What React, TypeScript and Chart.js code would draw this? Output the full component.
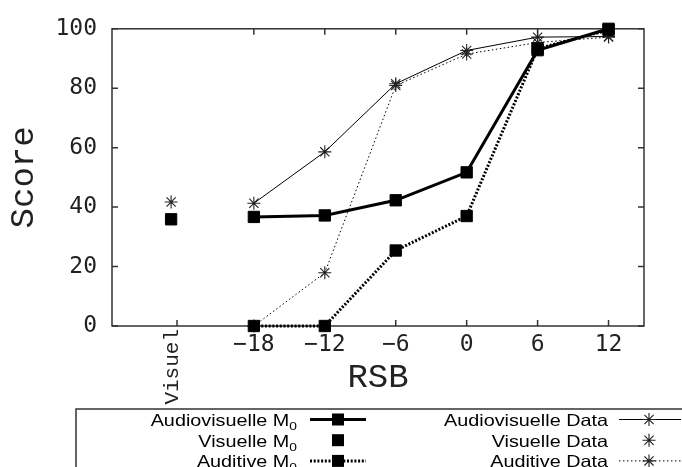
import React, { useEffect, useRef } from 'react';
import { Chart, registerables } from 'chart.js';

Chart.register(...registerables);

// ---------- data ----------
const snrLevels = [-18, -12, -6, 0, 6, 12];
const visualX = -25;
const xTickValues = [-24.5, -18, -12, -6, 0, 6, 12];
const xTickLabels = ['Visuel', '\u221218', '\u221212', '\u22126', '0', '6', '12'];
const yTickValues = [0, 20, 40, 60, 80, 100];

const avModel = [36.7, 37.2, 42.3, 51.7, 92.8, 100];
const vModel = [35.9];
const aModel = [0, 0, 25.4, 37.0, 93.3, 99.6];
const avData = [41.3, 58.6, 81.5, 92.7, 97.2, 97.4];
const vData = [41.7];
const aData = [0, 17.9, 80.9, 91.5, 95.4, 97.2];

const seriesLabels = [
  'Audiovisuelle M_0',
  'Visuelle M_0',
  'Auditive M_0',
  'Audiovisuelle Data',
  'Visuelle Data',
  'Auditive Data',
];

const xTitle = 'RSB';
const yTitle = 'Score';

// ---------- helpers ----------
const pts = (xs: number[], ys: number[]) => ys.map((y, i) => ({ x: xs[i], y }));

function drawStar(ctx: CanvasRenderingContext2D, x: number, y: number, r: number) {
  const d = r * Math.SQRT1_2;
  ctx.beginPath();
  ctx.moveTo(x - r, y); ctx.lineTo(x + r, y);
  ctx.moveTo(x, y - r); ctx.lineTo(x, y + r);
  ctx.moveTo(x - d, y - d); ctx.lineTo(x + d, y + d);
  ctx.moveTo(x - d, y + d); ctx.lineTo(x + d, y - d);
  ctx.stroke();
}

function drawLegendLabel(ctx: CanvasRenderingContext2D, text: string, rightX: number, baseY: number) {
  const [main, sub] = text.split('_');
  const mainFont = '16.5px "Liberation Sans", Arial, sans-serif';
  const subFont = '11.5px "Liberation Sans", Arial, sans-serif';
  const sx = 1.2;
  ctx.font = mainFont;
  const wMain = ctx.measureText(main).width;
  ctx.font = subFont;
  const wSub = sub ? ctx.measureText(sub).width : 0;
  const total = (wMain + wSub) * sx;
  ctx.save();
  ctx.translate(rightX - total, baseY);
  ctx.scale(sx, 1);
  ctx.fillStyle = '#000';
  ctx.textAlign = 'left';
  ctx.textBaseline = 'alphabetic';
  ctx.font = mainFont;
  ctx.fillText(main, 0, 0);
  if (sub) {
    ctx.font = subFont;
    ctx.fillText(sub, wMain, 4);
  }
  ctx.restore();
}

const framePlugin = {
  id: 'gnuFrame',
  beforeDatasetsDraw(chart: any) {
    const { ctx, chartArea: a, scales } = chart;
    const xs = scales.x;
    const ys = scales.y;
    ctx.save();
    ctx.strokeStyle = '#333';
    ctx.lineWidth = 1.5;
    ctx.strokeRect(a.left, a.top, a.right - a.left, a.bottom - a.top);
    ctx.beginPath();
    xTickValues.forEach((v, i) => {
      const px = xs.getPixelForValue(v);
      ctx.moveTo(px, a.bottom);
      ctx.lineTo(px, a.bottom - 6);
      if (i > 0) {
        ctx.moveTo(px, a.top);
        ctx.lineTo(px, a.top + 6);
      }
    });
    yTickValues.forEach((v) => {
      const py = ys.getPixelForValue(v);
      ctx.moveTo(a.left, py);
      ctx.lineTo(a.left + 6, py);
      ctx.moveTo(a.right, py);
      ctx.lineTo(a.right - 6, py);
    });
    ctx.stroke();
    // rotated "Visuel" tick label
    const vx = xs.getPixelForValue(xTickValues[0]);
    ctx.translate(vx - 5, a.bottom + 3);
    ctx.rotate(-Math.PI / 2);
    ctx.font = '21px "Liberation Mono", "Courier New", monospace';
    ctx.textAlign = 'right';
    ctx.textBaseline = 'middle';
    ctx.fillStyle = '#222';
    ctx.fillText(xTickLabels[0], 0, 0);
    ctx.restore();
  },
  afterDraw(chart: any) {
    const { ctx } = chart;
    const ds = chart.data.datasets;
    ctx.save();
    // legend box
    ctx.strokeStyle = '#333';
    ctx.lineWidth = 1.5;
    ctx.beginPath();
    ctx.moveTo(76, 480);
    ctx.lineTo(76, 409);
    ctx.lineTo(690, 409);
    ctx.stroke();

    const rows = [419.5, 440.2, 460.9];
    const cols = [
      { textRight: 297, lineFrom: 310, lineTo: 366, mark: 338 },
      { textRight: 608, lineFrom: 619, lineTo: 681, mark: 649 },
    ];
    ds.forEach((d: any, i: number) => {
      const col = cols[Math.floor(i / 3)];
      const cy = rows[i % 3];
      drawLegendLabel(ctx, d.label, col.textRight, cy + 6.5);
      if (d.showLine !== false) {
        ctx.save();
        ctx.strokeStyle = d.borderColor;
        ctx.lineWidth = d.borderWidth;
        ctx.setLineDash(d.borderDash || []);
        ctx.beginPath();
        ctx.moveTo(col.lineFrom, cy);
        ctx.lineTo(col.lineTo, cy);
        ctx.stroke();
        ctx.restore();
      }
      if (d.pointStyle === 'rect') {
        ctx.fillStyle = d.pointBackgroundColor;
        ctx.fillRect(col.mark - 6, cy - 6, 12, 12);
      } else {
        ctx.strokeStyle = d.pointBorderColor;
        ctx.lineWidth = d.pointBorderWidth;
        drawStar(ctx, col.mark, cy, 6.5);
      }
    });
    ctx.restore();
  },
};

const squareStyle = {
  pointStyle: 'rect',
  pointRadius: 8,
  pointHoverRadius: 8,
  pointBackgroundColor: '#000',
  pointBorderColor: '#000',
  pointBorderWidth: 1,
};
const starStyle = {
  pointStyle: 'star',
  pointRadius: 6.5,
  pointHoverRadius: 6.5,
  pointBackgroundColor: '#222',
  pointBorderColor: '#222',
  pointBorderWidth: 1.1,
};

export default function App() {
  const canvasRef = useRef<HTMLCanvasElement | null>(null);

  useEffect(() => {
    document.body.style.margin = '0';
    const canvas = canvasRef.current;
    if (!canvas) return;
    const chart = new Chart(canvas, {
      type: 'line',
      data: {
        datasets: [
          {
            label: seriesLabels[0],
            data: pts(snrLevels, avModel),
            borderColor: '#000',
            borderWidth: 3,
            ...squareStyle,
            clip: false,
          },
          {
            label: seriesLabels[1],
            data: pts([visualX], vModel),
            showLine: false,
            borderColor: '#000',
            borderWidth: 0,
            ...squareStyle,
            clip: false,
          },
          {
            label: seriesLabels[2],
            data: pts(snrLevels, aModel),
            borderColor: '#000',
            borderWidth: 3,
            borderDash: [2, 1.7],
            ...squareStyle,
            clip: false,
          },
          {
            label: seriesLabels[3],
            data: pts(snrLevels, avData),
            borderColor: '#000',
            borderWidth: 1,
            ...starStyle,
            clip: false,
          },
          {
            label: seriesLabels[4],
            data: pts([visualX], vData),
            showLine: false,
            borderColor: '#222',
            borderWidth: 0,
            ...starStyle,
            clip: false,
          },
          {
            label: seriesLabels[5],
            data: pts(snrLevels, aData),
            borderColor: '#000',
            borderWidth: 1,
            borderDash: [1.5, 2.5],
            ...starStyle,
            clip: false,
          },
        ] as any,
      },
      options: {
        responsive: false,
        animation: false,
        events: [],
        layout: { padding: { left: 0, top: 25, right: 38, bottom: 58 } },
        plugins: {
          legend: { display: false },
          tooltip: { enabled: false },
        },
        elements: { line: { tension: 0 } },
        scales: {
          x: {
            type: 'linear',
            min: -30,
            max: 15,
            afterBuildTicks: (s: any) => {
              s.ticks = xTickValues.map((v) => ({ value: v }));
            },
            afterFit: (s: any) => {
              s.height = 83;
            },
            grid: { display: false, drawTicks: false },
            border: { display: false },
            ticks: {
              autoSkip: false,
              maxRotation: 0,
              minRotation: 0,
              padding: 5,
              color: '#222',
              font: { family: '"DejaVu Sans Mono", monospace', size: 23 },
              callback: (_v: any, i: number) => (i === 0 ? '' : xTickLabels[i]),
            },
            title: {
              display: true,
              text: xTitle,
              color: '#222',
              font: { family: '"Liberation Mono", "Courier New", monospace', size: 34 },
              padding: { top: 0, bottom: 11 },
            },
          },
          y: {
            type: 'linear',
            min: 0,
            max: 100,
            afterBuildTicks: (s: any) => {
              s.ticks = yTickValues.map((v) => ({ value: v }));
            },
            afterFit: (s: any) => {
              s.width = 112;
            },
            grid: { display: false, drawTicks: false },
            border: { display: false },
            ticks: {
              padding: 15,
              color: '#222',
              font: { family: '"DejaVu Sans Mono", monospace', size: 23 },
            },
            title: {
              display: true,
              text: yTitle,
              color: '#222',
              font: { family: '"Liberation Mono", "Courier New", monospace', size: 34 },
              padding: { top: 4, bottom: 0 },
            },
          },
        },
      },
      plugins: [framePlugin],
    });
    return () => chart.destroy();
  }, []);

  return (
    <div style={{ position: 'absolute', left: 0, top: 0, width: 682, height: 467, background: '#fff' }}>
      <canvas ref={canvasRef} width={682} height={467} />
    </div>
  );
}
